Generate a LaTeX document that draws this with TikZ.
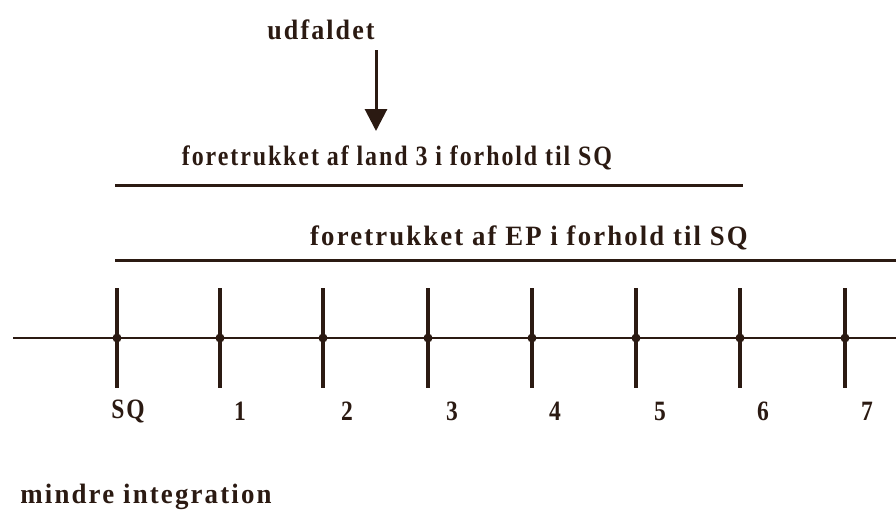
\documentclass[tikz,border=0pt]{standalone}
\usepackage{fontspec}
\setmainfont{Liberation Serif}[LetterSpace=8]
\usetikzlibrary{arrows.meta}
\definecolor{ink}{HTML}{2B1A12}
\newcommand{\cond}[2][0.84]{\scalebox{#1}[1]{#2}}
\begin{document}
\begin{tikzpicture}[x=1pt,y=-1pt,
  lbl/.style={text=ink,font=\fontsize{28}{30}\selectfont\bfseries,inner sep=0pt},
  tick/.style={draw=ink,line width=3.2pt},
  axisline/.style={draw=ink,line width=2.8pt},
  bar/.style={draw=ink,line width=3pt}]
\useasboundingbox (0,0) rectangle (896,522);
% axis
\coordinate (aL) at (13,338);
\coordinate (aR) at (896,338);
\draw[axisline] (aL) -- (aR);
\foreach \x/\n/\t/\d in {117/s/SQ/11,220/p1/1/20,323/p2/2/24,428/p3/3/24,532/p4/4/23,636/p5/5/24,740/p6/6/23,845/p7/7/22}{
  \coordinate (\n top) at (\x,288);
  \coordinate (\n bot) at (\x,388);
  \draw[tick] (\n top) -- (\n bot);
  \fill[ink] (\x,338) circle (4.5);
  \node[lbl] (\n lab) at (\x+\d,411) {\cond{\t}};
}
% bars
\coordinate (b1L) at (115,185); \coordinate (b1R) at (743,185);
\draw[bar] (b1L) -- (b1R);
\coordinate (b2L) at (115,260); \coordinate (b2R) at (896,260);
\draw[bar] (b2L) -- (b2R);
\node[lbl] (t1) at (397,158) {\cond[0.855]{foretrukket af land 3 i forhold til SQ}};
\node[lbl] (t2) at (529,238) {\cond[0.955]{foretrukket af EP i forhold til SQ}};
\node[lbl] (ud) at (321,30) {\cond[0.93]{udfaldet}};
\coordinate (arrS) at (376,50);
\coordinate (arrE) at (376,131);
\draw[draw=ink,line width=3pt,-{Triangle[length=22pt,width=22pt]}] (arrS) -- (arrE);
\node[lbl] (mi) at (146,497) {\cond[0.96]{mindre integration}};
\end{tikzpicture}
\end{document}
